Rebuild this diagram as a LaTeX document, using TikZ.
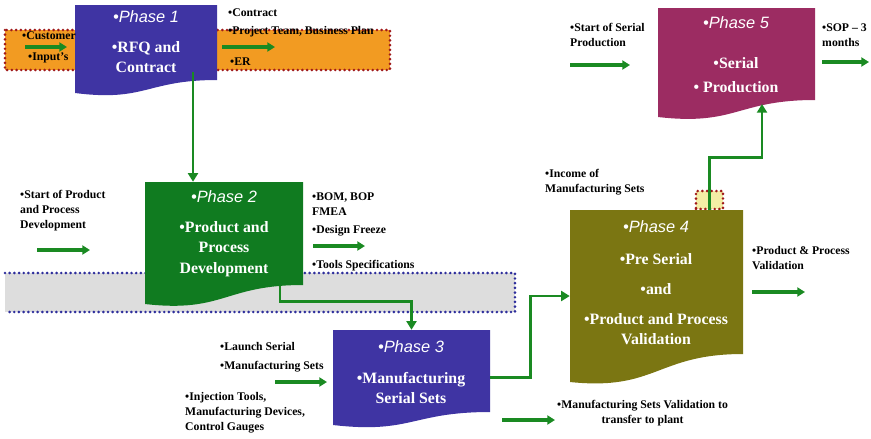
\documentclass[tikz,border=0pt]{standalone}
\usepackage{fontspec}
\setmainfont{Liberation Serif}
\newfontfamily\phasefont{Liberation Sans}
\usetikzlibrary{arrows.meta,positioning,fit,calc}
\definecolor{phaseblue}{HTML}{3F34A3}
\definecolor{phasegreen}{HTML}{107B20}
\definecolor{phaseolive}{HTML}{7B7612}
\definecolor{phasemagenta}{HTML}{9C2C62}
\definecolor{flowgreen}{HTML}{1A8A22}
\definecolor{bandorange}{HTML}{F29B22}
\definecolor{reddot}{HTML}{A01A1A}
\definecolor{bandgray}{HTML}{DDDDDD}
\definecolor{bluedot}{HTML}{2E2E9C}
\definecolor{gateyellow}{HTML}{F4EEA6}
\tikzset{
  note/.style={font=\fontsize{10}{12.8}\selectfont\bfseries,align=left,
    inner sep=0pt,anchor=west},
  phasetitle/.style={font=\phasefont\itshape\fontsize{14}{16}\selectfont,
    text=white,inner sep=0pt},
  phasetext/.style={font=\fontsize{13.5}{17.5}\selectfont\bfseries,
    text=white,align=center,inner sep=0pt},
  pagebox/.style={inner sep=0pt,draw=none},
  reddots/.style={draw=reddot,line width=2.5pt,line cap=round,
    dash pattern=on 0pt off 4pt},
  bluedots/.style={draw=bluedot,line width=2.5pt,line cap=round,
    dash pattern=on 0pt off 4pt},
  gatebox/.style={fill=gateyellow,reddots,inner sep=0pt,
    minimum width=0.81cm,minimum height=0.54cm},
  flowarrow/.style={-{Triangle[length=2.6mm,width=3mm]},line width=2.3pt,
    draw=flowgreen},
  inarrow/.style={-{Triangle[length=2.3mm,width=2.7mm]},line width=2.8pt,
    draw=flowgreen}
}
\newcommand{\docpage}[7]{%
  \fill[#2] (#3,#4) -- (#5,#4) -- (#5,#7)
    .. controls ($(#3,#7)!0.5!(#5,#7)$) and ($(#3,#6)!0.5!(#5,#6)+(0,9)$) .. (#3,#6)
    -- cycle;
  \node[pagebox,fit={(#3,#4) (#5,#6)}] (#1) {};
}
\begin{document}
\begin{tikzpicture}[x=0.03cm,y=-0.03cm]
\useasboundingbox (0,0) rectangle (871,438);

\fill[bandorange] (5,30) rectangle (390,70);
\draw[reddots] (5,30) rectangle (390,70);
\fill[bandgray] (5,273) rectangle (515,312);
\draw[bluedots] (5,273) -- (515,273) -- (515,312) -- (5,312);
\node[gatebox] (gate) at (709.5,200) {};

\docpage{p1}{phaseblue}{75}{5}{217}{93}{80}
\docpage{p2}{phasegreen}{145}{182}{303}{304}{285}
\docpage{p3}{phaseblue}{333}{330}{490}{425}{412}
\docpage{p4}{phaseolive}{570}{210}{743}{382}{354}
\docpage{p5}{phasemagenta}{658}{8}{815}{117}{100}

\node[phasetitle] (t1) at (146,17) {•Phase 1};
\node[phasetext] (b1) at (146,57) {•RFQ and\\Contract};
\node[phasetitle] (t2) at (224,197) {•Phase 2};
\node[phasetext] (b2) at (224,249) {•Product and\\Process\\Development};
\node[phasetitle] (t3) at (411,347) {•Phase 3};
\node[phasetext] (b3) at (411,388) {•Manufacturing\\Serial Sets};
\node[phasetitle] (t4) at (656,227) {•Phase 4};
\node[phasetext] (b4) at (656,299) {•Pre Serial\\[8pt]•and\\[8pt]•Product and Process\\Validation};
\node[phasetitle] (t5) at (736,23) {•Phase 5};
\node[phasetext] (b5) at (736,75) {•Serial\\[3pt]• Production};

\node[note] (cust) at (22,36) {•Customer};
\node[note] (inputs) at (28,58) {•Input's};
\node[note] (contract) at (228,13) {•Contract};
\node[note] (team) at (228,32) {•Project Team, Business Plan};
\node[note] (er) at (230,62) {•ER};
\node[note] (startpd) at (20,211) {•Start of Product\\and Process\\Development};
\node[note] (bom) at (312,204) {•BOM, BOP\\FMEA};
\node[note] (design) at (312,231) {•Design Freeze};
\node[note] (tools) at (312,266) {•Tools Specifications};
\node[note] (launch) at (220,346) {•Launch Serial};
\node[note] (mfgsets) at (220,367) {•Manufacturing Sets};
\node[note] (inject) at (185,413) {•Injection Tools,\\Manufacturing Devices,\\Control Gauges};
\node[note,align=center] (transfer) at (557,413) {•Manufacturing Sets Validation to\\transfer to plant};
\node[note] (income) at (545,182) {•Income of\\Manufacturing Sets};
\node[note] (validation) at (752,258) {•Product \& Process\\Validation};
\node[note] (startsp) at (570,35) {•Start of Serial\\Production};
\node[note] (sop) at (822,35) {•SOP – 3\\months};

\coordinate (a1) at (25,47);
\coordinate (a2) at (222,47);
\coordinate (a3) at (37,250);
\coordinate (a4) at (313,246);
\coordinate (a5) at (275,382);
\coordinate (a6) at (502,420);
\coordinate (a7) at (752,292);
\coordinate (a8) at (570,65);
\coordinate (a9) at (822,62);
\draw[inarrow] (a1) -- ++(42,0);
\draw[inarrow] (a2) -- ++(53,0);
\draw[inarrow] (a3) -- ++(53,0);
\draw[inarrow] (a4) -- ++(52,0);
\draw[inarrow] (a5) -- ++(52,0);
\draw[inarrow] (a6) -- ++(53,0);
\draw[inarrow] (a7) -- ++(53,0);
\draw[inarrow] (a8) -- ++(60,0);
\draw[inarrow] (a9) -- ++(47,0);

\coordinate (p1out) at (193,72);
\coordinate (p2out) at (280,286);
\coordinate (p5in) at (762,104);
\draw[flowarrow] (p1out) -- (p1out |- p2.north);
\draw[flowarrow] (p2out) |- ($(p3.north)+(0,-28)$) -- (p3.north);
\draw[flowarrow] (p3.east) -- ++(40,0) |- (p4.west);
\draw[flowarrow] (gate.south) -- ++(0,-53) -| (p5in);
\end{tikzpicture}
\end{document}
